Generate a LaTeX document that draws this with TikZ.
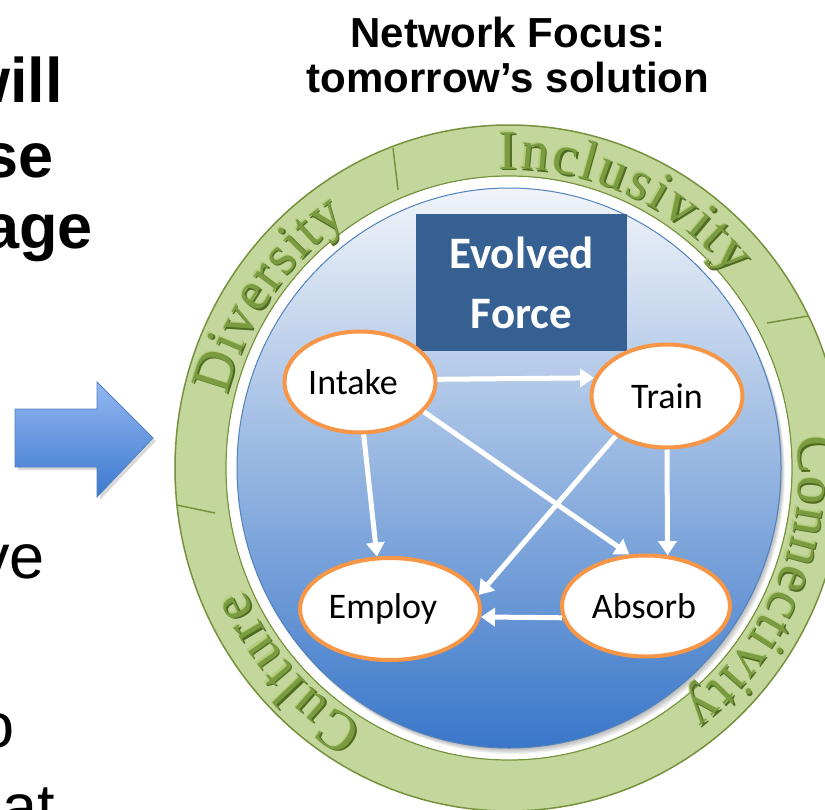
\documentclass[tikz,border=0pt]{standalone}
\usepackage{fontspec}
\setmainfont{Liberation Sans}
\newfontfamily\calfont{Carlito}
\newfontfamily\ringfont{Liberation Serif}
\usetikzlibrary{arrows.meta,decorations.text,shapes.geometric,calc}
\definecolor{ringfill}{HTML}{C3D69B}
\definecolor{ringline}{HTML}{76923C}
\definecolor{ringtext}{HTML}{7A9B3F}
\definecolor{ringshade}{HTML}{4F6B22}
\definecolor{ringlight}{HTML}{B3CD7C}
\definecolor{boxblue}{HTML}{366092}
\definecolor{nodeorange}{HTML}{F79646}
\definecolor{circtop}{HTML}{F1F4F9}
\definecolor{circmid}{HTML}{A7BFE0}
\definecolor{circbot}{HTML}{3A77C9}
\definecolor{circedge}{HTML}{4F81BD}
\definecolor{arrtop}{HTML}{93B8F2}
\definecolor{arrbot}{HTML}{3D78CF}
\newcommand\ringlayer[5]{%
  \path[decorate,decoration={text along path,text align={fit to path},text color=#4,
    text={|\ringfont\fontsize{56}{66}\selectfont|#3}}]
    ($(ctr)+(#1:290 and 299)+#5$) arc[start angle=#1,end angle=#2,x radius=290,y radius=299];
}
\newcommand\ringword[3]{%
  \ringlayer{#1}{#2}{#3}{ringlight}{(-1.2,1.2)}
  \ringlayer{#1}{#2}{#3}{ringshade}{(1.5,-1.5)}
  \ringlayer{#1}{#2}{#3}{ringtext}{(0,0)}
}
\begin{document}
\begin{tikzpicture}[x=1pt,y=1pt,
  stage/.style={ellipse, draw=nodeorange, line width=4pt, fill=white, inner sep=0pt,
    font=\calfont\fontsize{36}{43}\selectfont},
  flow/.style={white, line width=5pt, -{Triangle[width=18pt,length=14pt]}},
  bigtext/.style={anchor=base east, inner sep=0pt, font=\bfseries\fontsize{63}{73}\selectfont},
  lowtext/.style={anchor=base east, inner sep=0pt, font=\fontsize{63}{73}\selectfont},
  titletext/.style={anchor=base, inner sep=0pt, font=\bfseries\fontsize{42}{46}\selectfont},
  tick/.style={ringline, line width=1.5pt}
]
\useasboundingbox (0,0) rectangle (825,-809);
\clip (0,0) rectangle (825,-809);
\coordinate (ctr) at (509,-468);

% title
\node[titletext] (title1) at (508,-47) {Network Focus:};
\node[titletext] (title2) at (508,-92) {tomorrow’s solution};

% left text (cut off)
\node[bigtext] (l1) at (63,-102) {will};
\node[bigtext] (l2) at (54,-177) {se};
\node[bigtext] (l3) at (93,-248) {age};
\node[lowtext] (l4) at (45,-578) {ve};
\node[lowtext] (l5) at (15,-747) {o};
\node[lowtext] (l6) at (55,-828) {at};

% big arrow
\fill[black,opacity=0.15] (18,-412) -- (100,-412) -- (100,-385) -- (156,-441) -- (100,-500) -- (100,-470) -- (18,-470) -- cycle;
\shade[top color=arrtop, bottom color=arrbot, draw=circedge, line width=0.8pt]
  (15,-409) -- (97,-409) -- (97,-382) -- (153,-438) -- (97,-497) -- (97,-467) -- (15,-467) -- cycle;

% ring
\fill[ringfill, even odd rule] (ctr) ellipse[x radius=334, y radius=343] (ctr) ellipse[x radius=283, y radius=292];
\draw[ringline, line width=1.5pt] (ctr) ellipse[x radius=334, y radius=343];
\draw[ringline, line width=1.2pt] (ctr) ellipse[x radius=283, y radius=292];
\fill[white] (ctr) ellipse[x radius=282, y radius=291];

\ringword{166}{124}{Diversity}
\ringword{92}{40}{Inclusivity}
\ringword{6}{-53}{Connectivity}
\ringword{-120}{-156}{Culture}

\draw[tick] (393,-148) -- (398,-190);
\draw[tick] (767,-323) -- (808,-316);
\draw[tick] (177,-505) -- (215,-513);

% blue circle with shadow
\foreach \k in {1,2,3,4,5}{
  \fill[black,opacity=0.06] ($(ctr)+(0.8*\k,-1.2*\k)$) ellipse[x radius=272, y radius=280];
}
\shade[top color=circtop, middle color=circmid, bottom color=circbot] (ctr) ellipse[x radius=272, y radius=280];
\draw[circedge, line width=1pt] (ctr) ellipse[x radius=272, y radius=280];

% title box
\node[fill=boxblue, minimum width=211pt, minimum height=137pt, inner sep=0pt, text=white,
  align=center, font=\calfont\bfseries\fontsize{45}{60}\selectfont] (box) at (521.5,-282.5) {Evolved\\Force};

% stages
\node[stage, minimum width=151pt, minimum height=101pt] (intake) at (360,-382) {Intake\kern14pt\relax};
\node[stage, minimum width=151pt, minimum height=103pt] (train) at (667,-396) {Train};
\node[stage, minimum width=180pt, minimum height=102pt] (employ) at (390,-609) {Employ\kern14pt\relax};
\node[stage, minimum width=168pt, minimum height=101pt] (absorb) at (646,-606) {Absorb\kern4pt\relax};

% connectors
\draw[flow] (intake.2) -- (train.166);
\draw[flow] (intake.-86) -- (employ.104);
\draw[flow] (intake.-25) -- (absorb.108);
\draw[flow] (train.218) -- (employ.9);
\draw[flow] (train.south) -- (absorb.67);
\draw[flow] (absorb.188) -- (employ.-5);
\end{tikzpicture}
\end{document}
